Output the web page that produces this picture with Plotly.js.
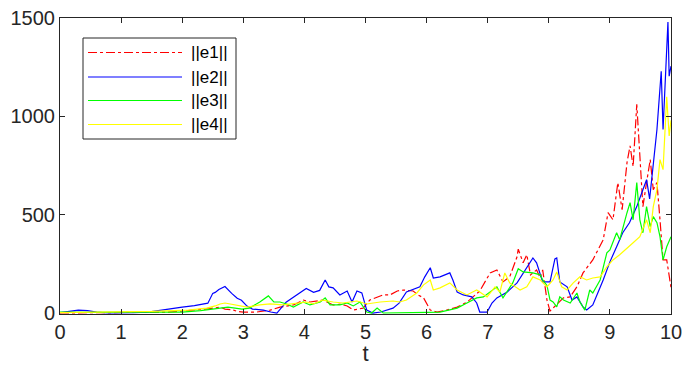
<!DOCTYPE html>
<html>
<head>
<meta charset="utf-8">
<script src="https://cdn.plot.ly/plotly-3.0.1.min.js"></script>
<style>html,body{margin:0;padding:0;background:#fff;}#chart{width:683px;height:366px;}</style>
</head>
<body>
<div id="chart"></div>
<script>
// ---- data ----
const seriesNames = ["||e1||", "||e2||", "||e3||", "||e4||"];

const e1_t = [0,0.5,1.0,1.5,1.77,2.0,2.26,2.45,2.62,2.7,2.84,2.9,3.0,3.22,3.44,3.6,3.82,3.98,4.09,4.3,4.47,4.6,4.7,4.8,4.96,5.07,5.29,5.4,5.52,5.62,5.78,5.86,5.95,6.06,6.17,6.33,6.5,6.66,6.87,7.04,7.15,7.25,7.36,7.48,7.5,7.58,7.64,7.7,7.8,7.86,7.9,7.97,8.02,8.13,8.24,8.35,8.46,8.56,8.72,8.89,8.97,9.05,9.13,9.2,9.28,9.33,9.38,9.44,9.49,9.54,9.6,9.66,9.71,9.77,9.82,9.87,9.93,9.98,10];
const e1 = [0,2,3,5,5,10,15,22,30,20,15,8,5,5,15,30,41,66,56,66,41,45,36,15,25,66,92,92,112,117,112,92,77,15,5,15,30,55,112,204,219,158,184,286,325,255,296,194,219,178,219,66,10,41,77,82,133,204,270,372,510,474,663,525,765,850,745,1061,765,541,663,780,627,663,474,270,270,153,130];

const e2_t = [0,0.15,0.3,0.45,0.6,0.8,1.0,1.2,1.44,1.7,2.0,2.2,2.42,2.5,2.54,2.6,2.7,2.81,2.9,2.97,3.06,3.15,3.33,3.45,3.55,3.7,3.87,4.03,4.15,4.25,4.34,4.4,4.47,4.58,4.7,4.78,4.86,4.94,5.02,5.12,5.25,5.35,5.45,5.55,5.67,5.89,5.97,6.06,6.11,6.22,6.38,6.43,6.5,6.6,6.74,6.82,6.87,6.99,7.07,7.15,7.32,7.48,7.64,7.74,7.8,7.9,8.02,8.1,8.13,8.18,8.3,8.38,8.46,8.56,8.62,8.72,8.89,9.0,9.11,9.21,9.32,9.44,9.54,9.6,9.65,9.7,9.74,9.77,9.84,9.87,9.95,9.97,10];
const e2 = [2,8,15,12,5,0,0,2,5,18,30,38,50,100,105,120,135,100,75,65,35,20,15,5,0,55,90,125,105,115,168,133,128,92,112,56,112,102,15,0,5,15,25,50,107,133,184,230,178,184,204,168,107,92,82,51,5,5,51,77,107,153,230,280,255,158,158,275,280,158,133,66,82,31,15,41,168,260,337,408,459,541,627,678,580,730,830,933,1229,933,1479,1204,1255];

const e3_t = [0,0.5,1.0,1.5,2.0,2.3,2.5,2.75,2.98,3.1,3.27,3.41,3.5,3.6,3.71,3.82,3.98,4.09,4.26,4.34,4.42,4.58,4.7,4.8,4.91,5.02,5.1,5.19,5.29,5.5,6.0,6.22,6.5,6.66,6.82,6.93,7.04,7.15,7.25,7.41,7.5,7.58,7.74,7.86,7.9,7.97,8.02,8.07,8.13,8.18,8.24,8.35,8.46,8.51,8.59,8.67,8.72,8.84,8.95,9.0,9.11,9.16,9.28,9.33,9.38,9.44,9.49,9.54,9.6,9.66,9.71,9.77,9.82,9.87,9.93,10];
const e3 = [5,3,5,5,5,12,20,30,20,25,56,87,56,56,46,30,56,41,56,77,41,41,51,36,56,5,0,25,0,0,3,5,25,51,77,82,107,133,77,153,225,209,204,194,168,140,66,56,31,82,66,51,102,56,15,117,102,168,306,321,408,372,510,561,474,663,474,408,541,439,490,459,388,270,337,388];

const e4_t = [0,0.5,1.0,1.5,2.1,2.4,2.54,2.62,2.7,2.87,3.06,3.27,3.44,3.65,3.87,4.04,4.15,4.3,4.47,4.63,4.86,5.02,5.24,5.45,5.56,5.67,5.84,5.95,6.06,6.11,6.22,6.38,6.5,6.66,6.82,6.99,7.12,7.2,7.28,7.36,7.53,7.64,7.74,7.86,7.97,8.07,8.13,8.21,8.3,8.4,8.51,8.62,8.72,8.84,8.95,9.05,9.16,9.28,9.38,9.49,9.54,9.6,9.66,9.71,9.77,9.82,9.87,9.93,9.97,10];
const e4 = [2,3,5,8,15,25,36,46,51,41,30,41,46,41,51,56,46,66,56,51,61,46,56,61,56,66,102,143,168,117,128,153,117,92,117,82,133,107,204,153,117,133,184,168,133,168,209,133,117,153,184,168,178,184,235,270,296,332,357,388,423,474,408,541,627,780,729,1100,900,980];

const xTicks = [0,1,2,3,4,5,6,7,8,9,10];
const yTicks = [0,500,1000,1500];

// ---- styles ----
const colors = ["#ff0000", "#0000ff", "#00ff00", "#ffff00"];
const dashes = ["dashdot", "solid", "solid", "solid"];
const tSets = [e1_t, e2_t, e3_t, e4_t];
const vSets = [e1, e2, e3, e4];

const traces = vSets.map((v, i) => ({
  type: "scatter", mode: "lines",
  x: tSets[i], y: v, name: seriesNames[i],
  line: {color: colors[i], width: 1.2, dash: dashes[i]},
  showlegend: false, hoverinfo: "skip"
}));

// plot area in px
const L = 60, R = 671, T = 18, B = 314;
const px2x = p => (p - L) / (R - L);
const px2y = p => (B - p) / (B - T);

const shapes = [{
  type: "rect", xref: "paper", yref: "paper",
  x0: px2x(83), x1: px2x(236), y0: px2y(139), y1: px2y(38),
  fillcolor: "#ffffff", line: {color: "#262626", width: 1}, layer: "above"
}];
const annotations = [];
const rowsY = [52.5, 77, 100.5, 124.5];
seriesNames.forEach((n, i) => {
  shapes.push({
    type: "line", xref: "paper", yref: "paper",
    x0: px2x(88), x1: px2x(182), y0: px2y(rowsY[i]), y1: px2y(rowsY[i]),
    line: {color: colors[i], width: 1.2, dash: dashes[i]}, layer: "above"
  });
  annotations.push({
    xref: "paper", yref: "paper", x: px2x(189), y: px2y(rowsY[i]),
    xanchor: "left", yanchor: "middle", showarrow: false, text: n,
    font: {family: "Liberation Sans, Arial, sans-serif", size: 17, color: "#000000"}
  });
});

const axisCommon = {
  showgrid: false, zeroline: false, showline: true, linecolor: "#262626", linewidth: 1,
  mirror: "ticks", ticks: "inside", ticklen: 5, tickwidth: 1, tickcolor: "#262626",
  tickfont: {family: "Liberation Sans, Arial, sans-serif", size: 20, color: "#262626"}
};

const layout = {
  width: 683, height: 366,
  margin: {l: L, r: 683 - R, t: T, b: 366 - B},
  paper_bgcolor: "#ffffff", plot_bgcolor: "#ffffff",
  showlegend: false,
  xaxis: Object.assign({}, axisCommon, {
    range: [0, 10], tickmode: "array", tickvals: xTicks, ticktext: xTicks.map(String),
    title: {text: "t", standoff: 2, font: {family: "Liberation Sans, Arial, sans-serif", size: 22, color: "#262626"}}
  }),
  yaxis: Object.assign({}, axisCommon, {
    range: [-5, 1500], tickmode: "array", tickvals: yTicks, ticktext: yTicks.map(String)
  }),
  shapes: shapes,
  annotations: annotations
};

Plotly.newPlot("chart", traces, layout, {staticPlot: true, displayModeBar: false});
</script>
</body>
</html>
